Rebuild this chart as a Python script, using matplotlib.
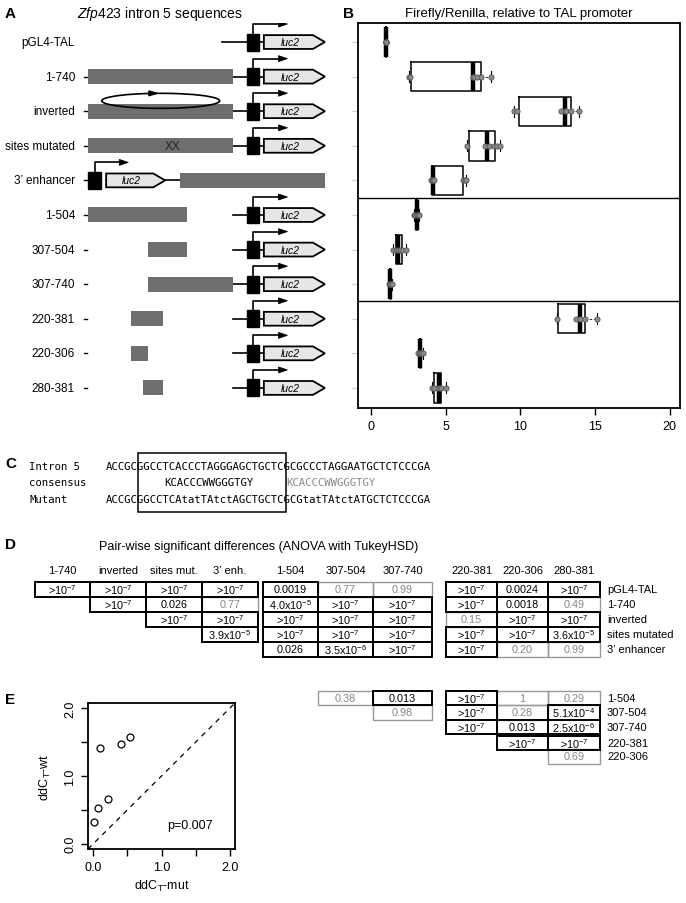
import matplotlib
matplotlib.use('Agg')
import matplotlib.pyplot as plt
from matplotlib.patches import Rectangle, Polygon, Arc

plt.rcParams['font.family'] = ['Liberation Sans', 'DejaVu Sans']
plt.rcParams['mathtext.fontset'] = 'custom'
plt.rcParams['mathtext.rm'] = 'Liberation Sans'
plt.rcParams['mathtext.it'] = 'Liberation Sans:italic'

W, H = 686, 904

# ---------------- data ----------------
constructs = ['pGL4-TAL', '1-740', 'inverted', 'sites mutated', '3\u2019 enhancer',
              '1-504', '307-504', '307-740', '220-381', '220-306', '280-381']
seg_start = [None, 1, 1, 1, 1, 1, 307, 307, 220, 220, 280]
seg_end = [None, 740, 740, 740, 740, 504, 504, 740, 381, 306, 381]
enh_row = 4   # the 3' enhancer construct has the reporter upstream

# Firefly/Renilla relative to TAL promoter (box stats + replicate points)
q1 = [0.97, 2.66, 9.89, 6.53, 4.07, 2.97, 1.66, 1.25, 12.50, 3.24, 4.23]
med = [0.99, 6.80, 13.00, 7.74, 4.16, 3.04, 1.77, 1.28, 14.00, 3.29, 4.52]
q3 = [1.01, 7.36, 13.40, 8.26, 6.13, 3.10, 2.03, 1.32, 14.36, 3.35, 4.68]
wlo = [0.97, 2.55, 9.55, 6.42, 4.00, 2.85, 1.43, 1.18, 12.47, 3.10, 4.05]
whi = [1.01, 8.05, 13.90, 8.64, 6.35, 3.22, 2.33, 1.38, 15.12, 3.48, 4.97]
ratio_pts = [
    [0.97, 0.98, 0.99, 1.00, 1.01],
    [2.55, 2.62, 6.80, 6.90, 7.05, 7.35, 8.05],
    [9.55, 9.75, 12.73, 13.00, 13.07, 13.40, 13.90],
    [6.42, 7.60, 7.90, 8.20, 8.41, 8.64],
    [4.00, 4.08, 4.16, 4.20, 6.13, 6.30, 6.35],
    [2.85, 2.95, 3.04, 3.10, 3.22],
    [1.43, 1.66, 1.77, 1.90, 2.03, 2.33],
    [1.18, 1.25, 1.28, 1.32, 1.38],
    [12.47, 13.74, 14.00, 14.30, 15.12],
    [3.10, 3.24, 3.29, 3.35, 3.48],
    [4.05, 4.23, 4.45, 4.60, 4.68, 4.97],
]

# sequences
seq_names = ['Intron 5', 'consensus', 'Mutant']
seq_intron = 'ACCGCGGCCTCACCCTAGGGAGCTGCTCGCGCCCTAGGAATGCTCTCCCGA'
cons_motif = 'KCACCCWWGGGTGY'
cons_pos = [9, 28]            # character offsets of the two motif copies
seq_mut = 'ACCGCGGCCTCAtatTAtctAGCTGCTCGCGtatTAtctATGCTCTCCCGA'
box_chars = (5, 28)

# Tukey HSD table
col_names = ['1-740', 'inverted', 'sites mut.', '3\u2019 enh.', '1-504', '307-504',
             '307-740', '220-381', '220-306', '280-381']
row_names = ['pGL4-TAL', '1-740', 'inverted', 'sites mutated', '3\u2019 enhancer',
             '1-504', '307-504', '307-740', '220-381', '220-306']
pvals = [
    ['>10-7', '>10-7', '>10-7', '>10-7', '0.0019', '0.77', '0.99', '>10-7', '0.0024', '>10-7'],
    ['', '>10-7', '0.026', '0.77', '4.0x10-5', '>10-7', '>10-7', '>10-7', '0.0018', '0.49'],
    ['', '', '>10-7', '>10-7', '>10-7', '>10-7', '>10-7', '0.15', '>10-7', '>10-7'],
    ['', '', '', '3.9x10-5', '>10-7', '>10-7', '>10-7', '>10-7', '>10-7', '3.6x10-5'],
    ['', '', '', '', '0.026', '3.5x10-6', '>10-7', '>10-7', '0.20', '0.99'],
    ['', '', '', '', '', '0.38', '0.013', '>10-7', '1', '0.29'],
    ['', '', '', '', '', '', '0.98', '>10-7', '0.28', '5.1x10-4'],
    ['', '', '', '', '', '', '', '>10-7', '0.013', '2.5x10-6'],
    ['', '', '', '', '', '', '', '', '>10-7', '>10-7'],
    ['', '', '', '', '', '', '', '', '', '0.69'],
]

# qPCR
ddct_mut = [0.10, 0.40, 0.53, 0.06, 0.22, 0.01]
ddct_wt = [1.41, 1.47, 1.58, 0.53, 0.66, 0.32]
p_text = 'p=0.007'


def box(l, t, r, b):
    return [l / W, 1 - b / H, (r - l) / W, (b - t) / H]


def p_num(s):
    if s.startswith('>'):
        return 0.0
    if 'x10' in s:
        m, e = s.split('x10')
        return float(m) * 10 ** float(e)
    return float(s)


def p_label(s):
    if s.startswith('>'):
        return r'>10$^{-7}$'
    if 'x10' in s:
        m, e = s.split('x10')
        return m + r'x10$^{' + e + '}$'
    return s


fig = plt.figure(figsize=(W / 100, H / 100), dpi=100)

# overlay in pixel coordinates for labels, sequences and table
ov = fig.add_axes([0, 0, 1, 1])
ov.set_xlim(0, W)
ov.set_ylim(H, 0)
ov.axis('off')

for lab, x, y in [('A', 5, 14), ('B', 343, 14), ('C', 5, 464), ('D', 5, 545), ('E', 5, 700)]:
    ov.text(x, y, lab, fontsize=11, fontweight='bold', va='center', ha='left')

ov.text(160, 14, r'$\it{Zfp423}$ intron 5 sequences', fontsize=10, ha='center', va='center')
ov.text(519, 14, 'Firefly/Renilla, relative to TAL promoter', fontsize=9.5, ha='center', va='center')

# ---------------- panel A ----------------
ylim_rows = (10.58, -0.55)
axA = fig.add_axes(box(0, 24, 340, 409))
axA.set_xlim(-449, 1284)
axA.set_ylim(*ylim_rows)
axA.axis('off')

PROM = (810, 871)
LUC = (896, 1146, 1207)
PROM_E = (1, 67)
LUC_E = (92, 332, 393)
ENH_OFF = 467


def reporter(ax, y, prom, luc, line_from):
    ax.plot([line_from, luc[0]], [y, y], color='black', lw=1.2, zorder=2)
    ax.add_patch(Rectangle((prom[0], y - 0.245), prom[1] - prom[0], 0.49,
                           facecolor='black', edgecolor='black', zorder=3))
    ax.add_patch(Polygon([(luc[0], y - 0.2), (luc[1], y - 0.2), (luc[2], y),
                          (luc[1], y + 0.2), (luc[0], y + 0.2)], closed=True,
                         facecolor='#e6e6e6', edgecolor='black', lw=1.3, zorder=3))
    ax.text((luc[0] + luc[1]) / 2 + 10, y, 'luc2', style='italic', fontsize=7.5,
            ha='center', va='center', zorder=4)
    xc = (prom[0] + prom[1]) / 2
    xh = xc + 0.52 * (luc[1] - luc[0])
    ax.plot([xc, xc, xh], [y - 0.245, y - 0.52, y - 0.52], color='black', lw=1.2, zorder=3)
    ax.add_patch(Polygon([(xh, y - 0.607), (xh + 46, y - 0.52), (xh, y - 0.433)],
                         closed=True, facecolor='black', edgecolor='black', lw=0.5, zorder=3))


for i, name in enumerate(constructs):
    axA.text(-67, i, name, fontsize=8.5, ha='right', va='center')
    if i > 0:
        axA.plot([-21, -6], [i, i], color='black', lw=1)
    if i == 0:
        reporter(axA, i, PROM, LUC, 682)
    elif i == enh_row:
        reporter(axA, i, PROM_E, LUC_E, LUC_E[2])
        axA.plot([LUC_E[2], seg_start[i] + ENH_OFF], [i, i], color='black', lw=1.2)
        axA.add_patch(Rectangle((seg_start[i] + ENH_OFF, i - 0.217), seg_end[i] - seg_start[i],
                                0.434, facecolor='#6e6e6e', edgecolor='none', zorder=2))
    else:
        reporter(axA, i, PROM, LUC, 740)
        axA.add_patch(Rectangle((seg_start[i], i - 0.217), seg_end[i] - seg_start[i], 0.434,
                                facecolor='#6e6e6e', edgecolor='none', zorder=2))

# inverted: circular arrow over the bar
cx, cy = 370, 2 - 0.30
axA.add_patch(Arc((cx, cy), 601, 0.434, theta1=276, theta2=266, color='black', lw=1.2, zorder=5))
axA.add_patch(Polygon([(351, cy - 0.217), (310, cy - 0.287), (310, cy - 0.147)], closed=True,
                      facecolor='black', edgecolor='black', zorder=5))
# sites mutated
axA.text(433, 3, 'XX', fontsize=8.5, color='#222222', ha='center', va='center', zorder=5)

# ---------------- panel B ----------------
axB = fig.add_axes(box(358, 24, 680, 409))
stats = [dict(med=med[i], q1=q1[i], q3=q3[i], whislo=wlo[i], whishi=whi[i], fliers=[])
         for i in range(len(constructs))]
axB.bxp(stats, positions=list(range(len(constructs))), orientation='horizontal',
        widths=0.85, capwidths=0.32, showfliers=False,
        boxprops=dict(color='black', lw=1.1),
        medianprops=dict(color='black', lw=3.2),
        whiskerprops=dict(color='black', lw=0.6, ls=(0, (3, 2))),
        capprops=dict(color='black', lw=0.8))
for i, pts in enumerate(ratio_pts):
    axB.scatter(pts, [i] * len(pts), s=14, facecolor='#8a8a8a', edgecolor='#555555',
                lw=0.6, zorder=5)
axB.axhline(4.5, color='black', lw=1)
axB.axhline(7.5, color='black', lw=1)
axB.set_xlim(-0.9, 20.7)
axB.set_ylim(*ylim_rows)
axB.set_xticks([0, 5, 10, 15, 20])
axB.set_yticks(range(len(constructs)))
axB.set_yticklabels([])
axB.tick_params(axis='x', labelsize=9, length=5, width=1)
axB.tick_params(axis='y', length=4, color='#cccccc')
for s in axB.spines.values():
    s.set_linewidth(1.3)

# ---------------- panel C ----------------
fs_mono = 7.7
cw = 0.602 * fs_mono * 100 / 72
seq_x = 106
seq_y = [467, 483, 500]
mono = 'DejaVu Sans Mono'
for name, y in zip(seq_names, seq_y):
    ov.text(29, y, name, family=mono, fontsize=fs_mono, va='center', ha='left')
ov.text(seq_x, seq_y[0], seq_intron, family=mono, fontsize=fs_mono, va='center', ha='left')
for k, pos in enumerate(cons_pos):
    ov.text(seq_x + pos * cw, seq_y[1], cons_motif, family=mono, fontsize=fs_mono,
            va='center', ha='left', color='black' if k == 0 else '#888888')
ov.text(seq_x, seq_y[2], seq_mut, family=mono, fontsize=fs_mono, va='center', ha='left')
ov.add_patch(Rectangle((seq_x + box_chars[0] * cw, 454), (box_chars[1] - box_chars[0]) * cw, 59,
                       fill=False, edgecolor='black', lw=1.1))

# ---------------- panel D ----------------
ov.text(259, 547, 'Pair-wise significant differences (ANOVA with TukeyHSD)', fontsize=9,
        ha='center', va='center')
col_x0 = [35, 90, 146, 202, 263, 318, 373, 446, 497, 548]
col_x1 = [90, 146, 202, 258, 318, 373, 432, 497, 548, 600]
row_y = [590.5, 605.5, 620.5, 635.5, 650.5, 699, 713.5, 728, 744, 757.5]
cell_h = 14.5
for j, name in enumerate(col_names):
    ov.text((col_x0[j] + col_x1[j]) / 2, 571, name, fontsize=8, ha='center', va='center')
for i, name in enumerate(row_names):
    ov.text(607, row_y[i], name, fontsize=8, ha='left', va='center')

cells = [(i, j, s) for i, row in enumerate(pvals) for j, s in enumerate(row) if s]
cells.sort(key=lambda c: p_num(c[2]) < 0.05)
for i, j, s in cells:
    sig = p_num(s) < 0.05
    ec = 'black' if sig else '#999999'
    ov.add_patch(Rectangle((col_x0[j], row_y[i] - cell_h / 2), col_x1[j] - col_x0[j], cell_h,
                           fill=False, edgecolor=ec, lw=1.4 if sig else 1.0, zorder=3 if sig else 2))
    ov.text((col_x0[j] + col_x1[j]) / 2, row_y[i], p_label(s), fontsize=7.8,
            color='black' if sig else '#888888', ha='center', va='center')

# ---------------- panel E ----------------
axE = fig.add_axes(box(88, 704, 235, 850))
axE.plot(ddct_mut, ddct_wt, 'o', mfc='none', mec='black', ms=5, mew=0.9)
axE.axline((0, 0), slope=1, color='black', lw=0.9, ls=(0, (4, 4)))
axE.set_xlim(-0.08, 2.08)
axE.set_ylim(-0.08, 2.08)
ticks = [0, 0.5, 1, 1.5, 2]
tlabs = ['0.0', '', '1.0', '', '2.0']
axE.set_xticks(ticks)
axE.set_xticklabels(tlabs)
axE.set_yticks(ticks)
axE.set_yticklabels(tlabs, rotation=90, va='center')
axE.tick_params(labelsize=9, length=5, width=1)
axE.set_xlabel(r'ddC$_\mathrm{T}$-mut', fontsize=9)
axE.set_ylabel(r'ddC$_\mathrm{T}$-wt', fontsize=9, labelpad=8)
axE.text(1.42, 0.28, p_text, fontsize=9, ha='center', va='center')
for s in axE.spines.values():
    s.set_linewidth(1.3)

fig.savefig('out.png', dpi=100)
